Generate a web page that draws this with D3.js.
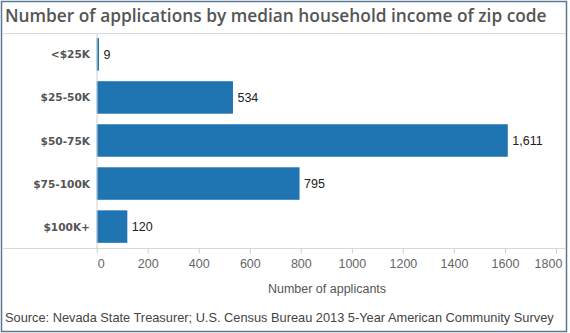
<!DOCTYPE html>
<html>
<head>
<meta charset="utf-8">
<script src="https://cdn.jsdelivr.net/npm/d3@7"></script>
<style>
  html, body { margin: 0; padding: 0; background: #fff; }
  svg { display: block; }
</style>
</head>
<body>
<svg id="chart" width="570" height="333"></svg>
<script>
// Applications by median household income of zip code
const categories = ["<$25K", "$25-50K", "$50-75K", "$75-100K", "$100K+"];
const applicants = [9, 534, 1611, 795, 120];
const tickValues = [0, 200, 400, 600, 800, 1000, 1200, 1400, 1600, 1800];

const svg = d3.select("#chart");
const W = 570, H = 333;

// outer frame
svg.append("rect")
  .attr("x", 1.5).attr("y", 1.5)
  .attr("width", W - 5).attr("height", H - 3)
  .attr("fill", "#fff")
  .attr("stroke", "#5a7896").attr("stroke-width", 1.5);

// title
const title = svg.append("text")
  .attr("x", 5).attr("y", 22)
  .attr("font-family", "'Open Sans', 'DejaVu Sans', sans-serif")
  .attr("font-weight", 600)
  .attr("font-size", 16)
  .attr("fill", "#555")
  .text("Number of applications by median household income of zip code");
{
  const w = title.node().getComputedTextLength();
  title.attr("font-size", 16 * 542 / w);
}

// divider under title
svg.append("line")
  .attr("x1", 3).attr("x2", W - 4)
  .attr("y1", 33.5).attr("y2", 33.5)
  .attr("stroke", "#d9d9d9");

const x = d3.scaleLinear().domain([0, 1800]).range([96.7, 556]);
const y = d3.scaleBand().domain(categories).range([33, 248]).paddingInner(0.245).paddingOuter(0.12);

// bars
svg.append("g").selectAll("rect")
  .data(categories)
  .join("rect")
  .attr("x", x(0))
  .attr("y", d => y(d))
  .attr("width", (d, i) => x(applicants[i]) - x(0))
  .attr("height", y.bandwidth())
  .attr("fill", "#1f74b2");

// vertical axis line
svg.append("line")
  .attr("x1", 97).attr("x2", 97)
  .attr("y1", 34).attr("y2", 248)
  .attr("stroke", "#d0d0d0");

// horizontal axis line
svg.append("line")
  .attr("x1", 3).attr("x2", W - 4)
  .attr("y1", 248.5).attr("y2", 248.5)
  .attr("stroke", "#d9d9d9");

// category labels
svg.append("g").selectAll("text")
  .data(categories)
  .join("text")
  .attr("x", 90)
  .attr("y", d => y(d) + y.bandwidth() / 2 + 4)
  .attr("text-anchor", "end")
  .attr("font-family", "'DejaVu Sans', sans-serif")
  .attr("font-weight", "bold")
  .attr("font-size", 10.6)
  .attr("fill", "#555")
  .text(d => d);

// value labels
const fmt = d3.format(",");
svg.append("g").selectAll("text")
  .data(categories)
  .join("text")
  .attr("x", (d, i) => x(applicants[i]) + 4.5)
  .attr("y", d => y(d) + y.bandwidth() / 2 + 4.5)
  .attr("font-family", "'Liberation Sans', Arial, sans-serif")
  .attr("font-size", 12.5)
  .attr("fill", "#222")
  .text((d, i) => fmt(applicants[i]));

// x axis; end labels are nudged inward to stay inside the frame
const axis = d3.axisBottom(x).tickValues(tickValues).tickSize(5).tickPadding(6).tickFormat(d3.format("d"));
const gx = svg.append("g").attr("transform", "translate(0,248.5)").call(axis);
gx.select(".domain").remove();
gx.selectAll(".tick line").attr("stroke", "#d0d0d0");
gx.selectAll(".tick text")
  .attr("font-family", "'Liberation Sans', Arial, sans-serif")
  .attr("font-size", 12.5)
  .attr("fill", "#666")
  .attr("dx", d => d === 0 ? 4 : d === 1800 ? -8 : 0);

// axis title
svg.append("text")
  .attr("x", 327).attr("y", 293)
  .attr("text-anchor", "middle")
  .attr("font-family", "'Liberation Sans', Arial, sans-serif")
  .attr("font-size", 12.5)
  .attr("fill", "#555")
  .text("Number of applicants");

// source note
svg.append("text")
  .attr("x", 5).attr("y", 322)
  .attr("font-family", "'Liberation Sans', Arial, sans-serif")
  .attr("font-size", 12.8)
  .attr("fill", "#444")
  .text("Source: Nevada State Treasurer; U.S. Census Bureau 2013 5-Year American Community Survey");
</script>
</body>
</html>
